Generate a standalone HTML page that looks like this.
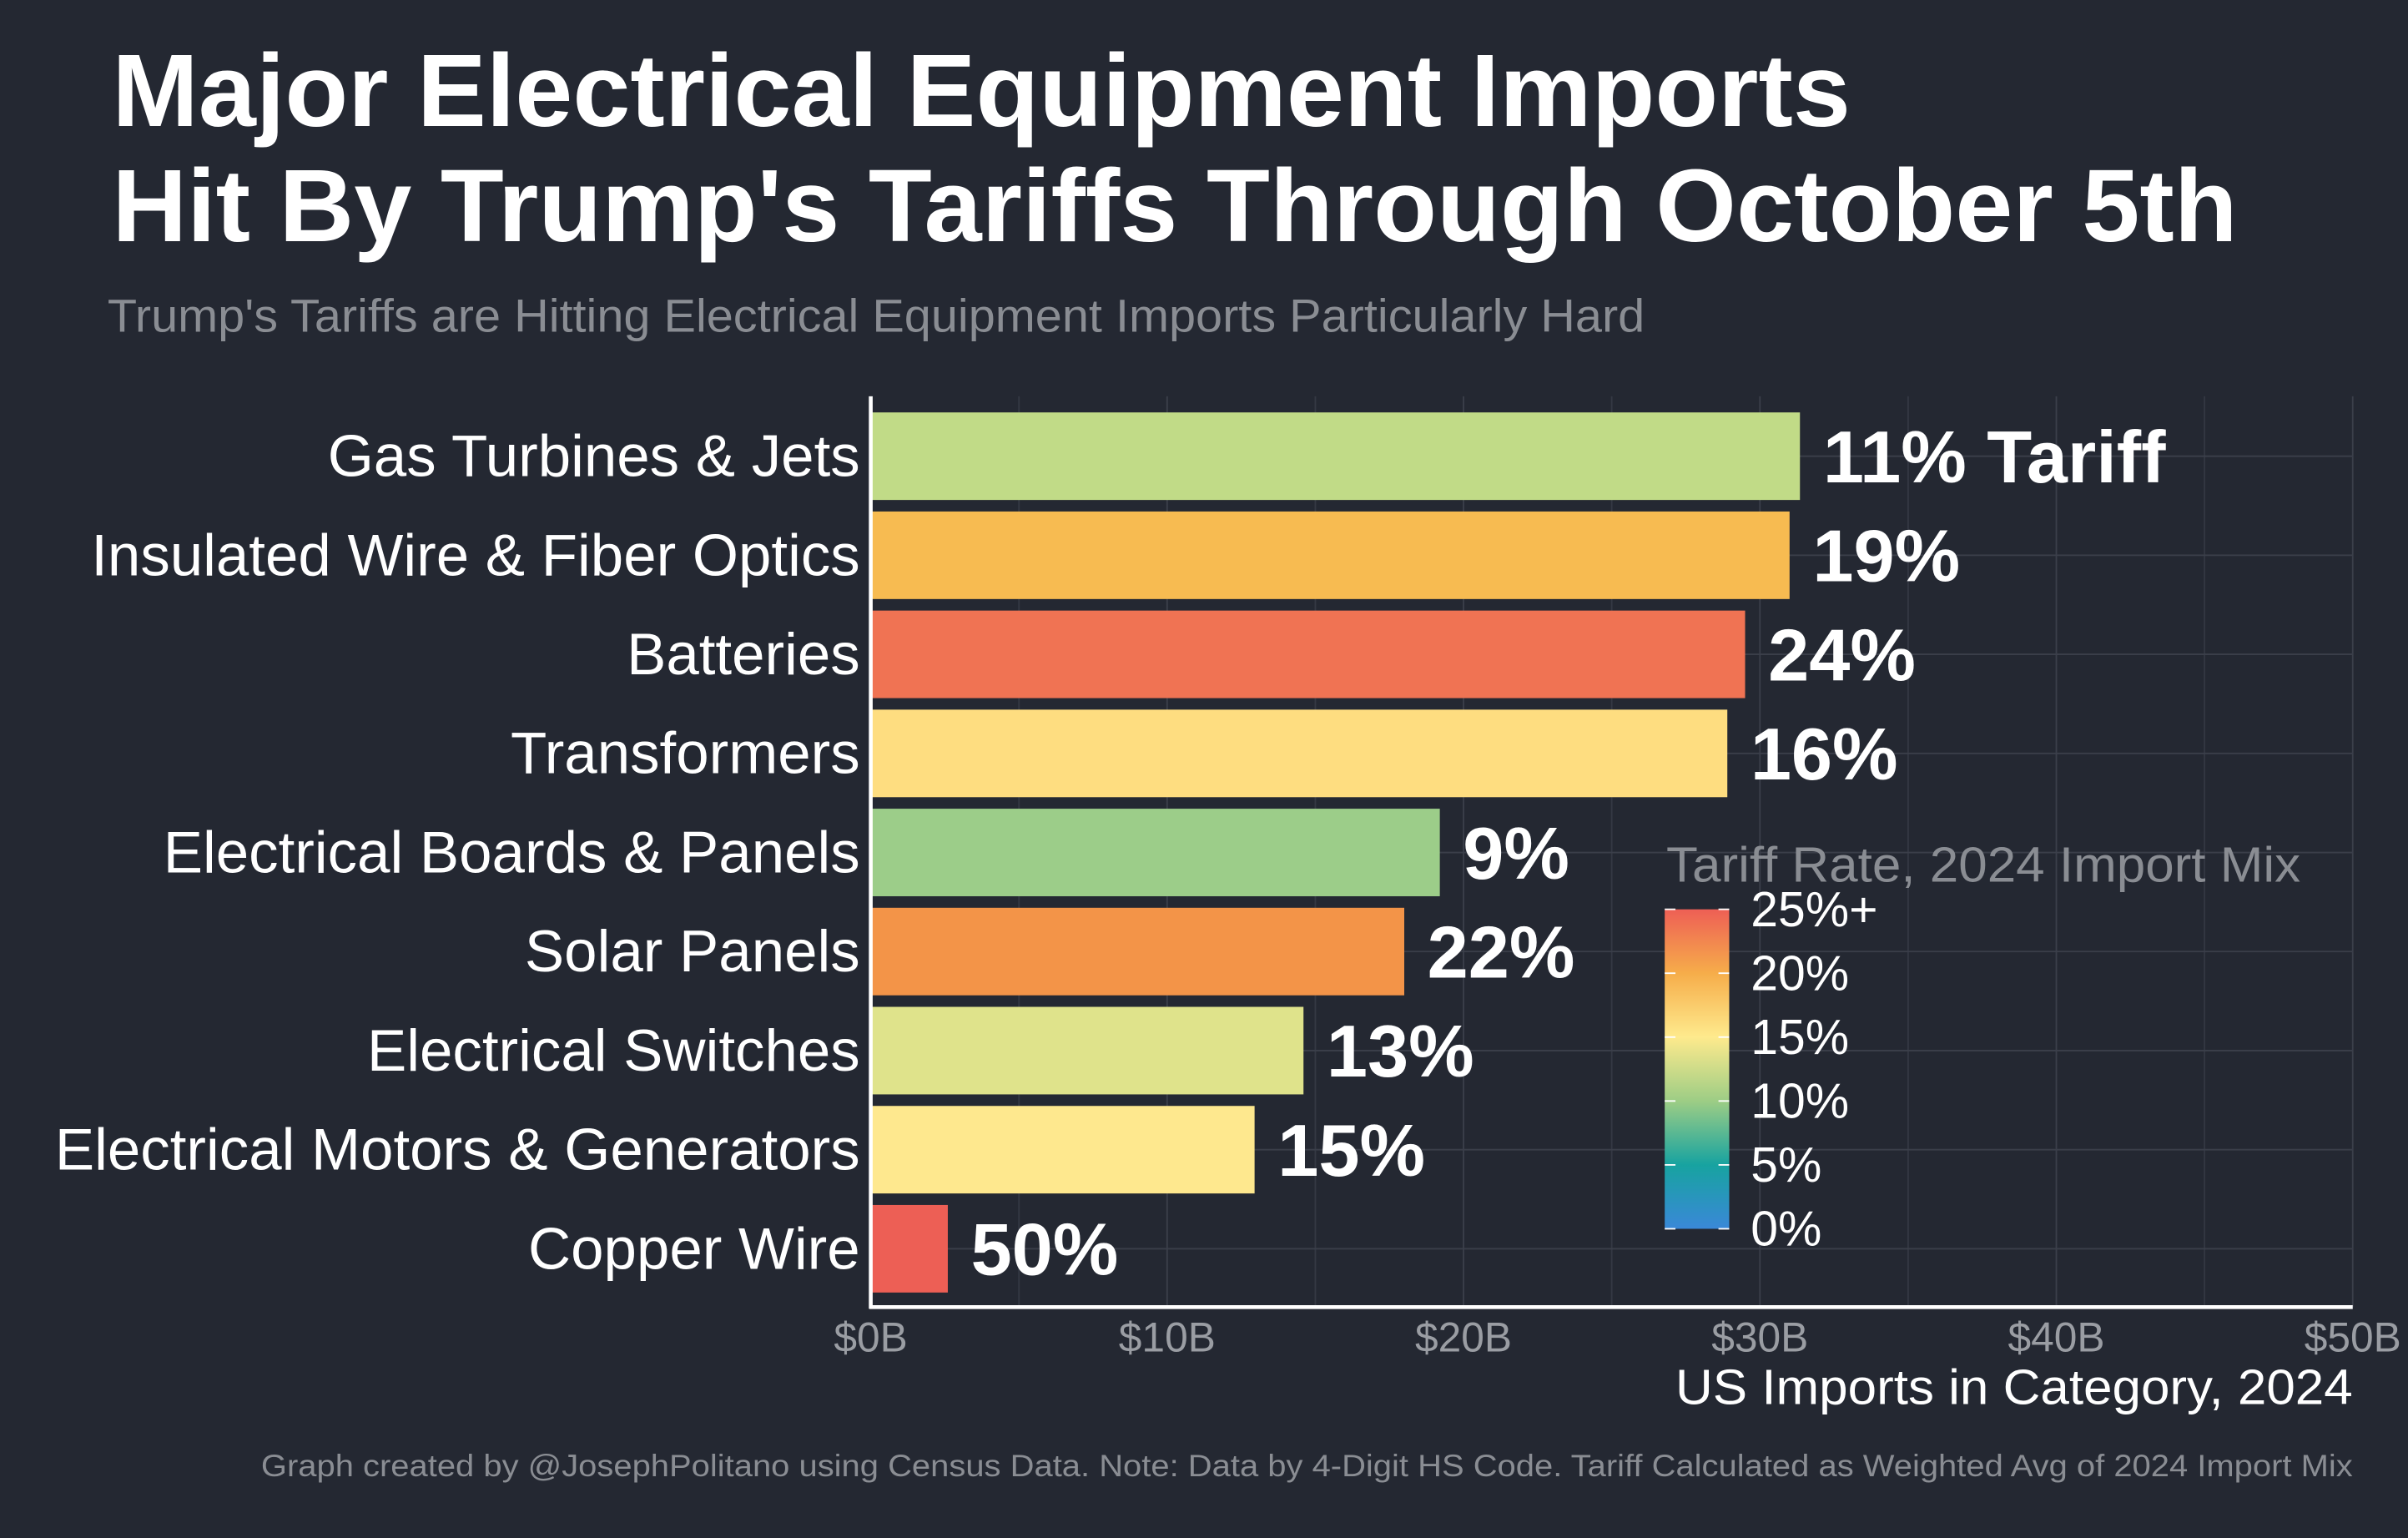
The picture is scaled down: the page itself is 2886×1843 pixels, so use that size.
<!DOCTYPE html>
<html><head><meta charset="utf-8"><style>
html,body{margin:0;padding:0;background:#242832;}
svg{display:block;font-family:"Liberation Sans",Arial,sans-serif;}
</style></head><body>
<svg id="chart" width="2886" height="1843" viewBox="0 0 1568 1001.3" xmlns="http://www.w3.org/2000/svg">
<defs><linearGradient id="cb" x1="0" y1="1" x2="0" y2="0">
<stop offset="0" stop-color="#3a88d8"/><stop offset="0.2" stop-color="#17a3a0"/><stop offset="0.4" stop-color="#9dcd85"/><stop offset="0.6" stop-color="#feea8d"/><stop offset="0.8" stop-color="#f6ad4a"/><stop offset="1" stop-color="#ee5f55"/></linearGradient></defs>
<rect width="1568" height="1002" fill="#242832"/>
<text x="73" y="82" font-size="67" font-weight="bold" fill="#fff" textLength="1132" lengthAdjust="spacingAndGlyphs">Major Electrical Equipment Imports</text>
<text x="73" y="157" font-size="67" font-weight="bold" fill="#fff" textLength="1384" lengthAdjust="spacingAndGlyphs">Hit By Trump's Tariffs Through October 5th</text>
<text x="70" y="216" font-size="30" fill="#8a8d93" textLength="1001" lengthAdjust="spacingAndGlyphs">Trump's Tariffs are Hitting Electrical Equipment Imports Particularly Hard</text>
<g id="grid"></g>
<g id="bars"></g>
<g id="labels"></g>
<line x1="567" y1="258" x2="567" y2="852" stroke="#fff" stroke-width="2.5"/>
<line x1="566" y1="851" x2="1532" y2="851" stroke="#fff" stroke-width="2.5"/>
<g id="xticks"></g>
<text x="1532" y="914" font-size="32" fill="#fff" text-anchor="end" textLength="441" lengthAdjust="spacingAndGlyphs">US Imports in Category, 2024</text>
<text x="1532" y="961" font-size="20" fill="#8a8d93" text-anchor="end" textLength="1362" lengthAdjust="spacingAndGlyphs">Graph created by @JosephPolitano using Census Data. Note: Data by 4-Digit HS Code. Tariff Calculated as Weighted Avg of 2024 Import Mix</text>
<g>
<text x="1085" y="574" font-size="32" fill="#8a8d93" textLength="413" lengthAdjust="spacingAndGlyphs">Tariff Rate, 2024 Import Mix</text>
<rect x="1084" y="592" width="42" height="208" fill="url(#cb)"/>
<g id="legticks"></g>
</g>
</svg>
<script>
const categories=["Gas Turbines & Jets","Insulated Wire & Fiber Optics","Batteries","Transformers","Electrical Boards & Panels","Solar Panels","Electrical Switches","Electrical Motors & Generators","Copper Wire"];
const imports=[31.35,31.0,29.5,28.9,19.2,18.0,14.6,12.95,2.6];
const tariffs=[11,19,24,16,9,22,13,15,50];
const valueLabels=["11% Tariff","19%","24%","16%","9%","22%","13%","15%","50%"];
const barColors=["#c1db87","#f7bb51","#f07353","#fedd80","#9ccd89","#f39448","#dfe38b","#fee88e","#ed5f55"];
const xTicks=[0,10,20,30,40,50];
const xTickLabels=["$0B","$10B","$20B","$30B","$40B","$50B"];
const legendTicks=[0,5,10,15,20,25];
const legendLabels=["0%","5%","10%","15%","20%","25%+"];
const NS="http://www.w3.org/2000/svg";
const X0=567,X1=1532,Y0=297,STEP=64.5,BH=57;
const xs=v=>X0+(X1-X0)*v/50;
const ys=i=>Y0+STEP*i;
const ly=v=>800-208*v/25;
function mk(tag,attrs,parent){const e=document.createElementNS(NS,tag);for(const k in attrs)e.setAttribute(k,attrs[k]);parent.appendChild(e);return e;}
const grid=document.getElementById('grid'),bars=document.getElementById('bars'),labels=document.getElementById('labels'),xt=document.getElementById('xticks'),lt=document.getElementById('legticks');
for(let v=5;v<=50;v+=5){const l=mk('line',{x1:xs(v),x2:xs(v),y1:258,y2:851,stroke:v%10?'#343843':'#3b3f4a','stroke-width':1},grid);

}
categories.forEach((c,i)=>{
const g=mk('line',{x1:567,x2:1532,y1:ys(i),y2:ys(i),stroke:'#3b3f4a','stroke-width':1},grid);


const r=mk('rect',{x:xs(0)+1,y:ys(i)-BH/2,width:xs(imports[i])-xs(0)-1,height:BH,fill:barColors[i]},bars);


const t=mk('text',{x:560,y:ys(i)+13,'font-size':38.5,fill:'#fff','text-anchor':'end'},labels);t.textContent=c;


const v=mk('text',{x:xs(imports[i])+15,y:ys(i)+17,'font-size':48,'font-weight':'bold',fill:'#fff'},labels);v.textContent=valueLabels[i];


});
xTicks.forEach((v,i)=>{const t=mk('text',{x:xs(v),y:880,'font-size':27,fill:'#9a9da3','text-anchor':'middle'},xt);t.textContent=xTickLabels[i];

});
legendTicks.forEach((v,i)=>{
mk('line',{x1:1084,x2:1091,y1:ly(v),y2:ly(v),stroke:'#fff','stroke-width':1},lt);
mk('line',{x1:1119,x2:1126,y1:ly(v),y2:ly(v),stroke:'#fff','stroke-width':1},lt);
const t=mk('text',{x:1140,y:ly(v)+11,'font-size':32,fill:'#fff'},lt);t.textContent=legendLabels[i];

});
</script>
</body></html>
